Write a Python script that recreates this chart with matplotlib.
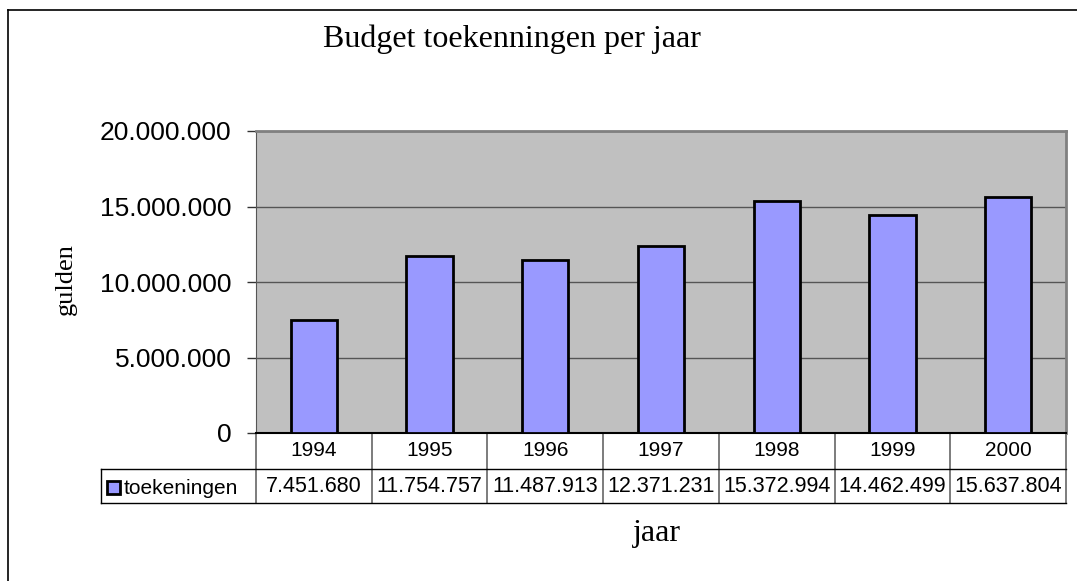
'''
Budget toekenningen per jaar
Bar chart with data table underneath
'''

import numpy as np
import matplotlib
matplotlib.use('Agg')
import matplotlib.pyplot as plt
from matplotlib.lines import Line2D
from matplotlib.patches import Rectangle
from matplotlib.ticker import FuncFormatter

# ═══ Data ═════════════════════════════════════════════════════════════════

years = ['1994', '1995', '1996', '1997', '1998', '1999', '2000']
toekeningen = [7451680, 11754757, 11487913, 12371231, 15372994, 14462499, 15637804]
series_name = 'toekeningen'

title = 'Budget toekenningen per jaar'
xlabel = 'jaar'
ylabel = 'gulden'

# ═══ Figure ═══════════════════════════════════════════════════════════════

W, H = 1077, 581
fig = plt.figure(figsize=(W/100, H/100), dpi=100)

def px(x, y):
  # pixel -> figure fraction
  return x/W, 1 - y/H

def nl(v):
  # dutch thousands separator
  return f'{v:,.0f}'.replace(',', '.')

# Plot area in pixels
L, R, T, B = 256, 1066, 131, 433
ax = fig.add_axes([L/W, 1 - B/H, (R - L)/W, (B - T)/H])

sans = ['Liberation Sans', 'DejaVu Sans']
serif = ['Liberation Serif', 'DejaVu Serif']

# ─── Bars ──────────────────────────────────────
xpos = np.arange(len(years))
ax.set_facecolor('#c0c0c0')
ax.bar(xpos, toekeningen, width=0.40, color='#9999ff', edgecolor='black',
       linewidth=2, zorder=3)

ax.set_xlim(-0.5, len(years) - 0.5)
ax.set_ylim(0, 20000000)
ax.set_yticks(np.arange(0, 20000001, 5000000))
ax.yaxis.set_major_formatter(FuncFormatter(lambda v, p: nl(v)))
ax.grid(axis='y', color='#555555', linewidth=1, zorder=1)
ax.set_xticks([])
ax.tick_params(axis='y', direction='out', length=6.5, width=1, color='#333333',
               labelsize=19, pad=11)
for lbl in ax.get_yticklabels():
  lbl.set_family(sans)

for s in ['top', 'right']:
  ax.spines[s].set_color('#808080')
  ax.spines[s].set_linewidth(2)
ax.spines['left'].set_color('#555555')
ax.spines['bottom'].set_color('black')
ax.spines['bottom'].set_linewidth(1.5)

# ─── Data table ────────────────────────────────
tr = ax.get_xaxis_transform()
ah = B - T
h1 = (469 - B)/ah
h2 = (503 - B)/ah
colw = (R - L)/len(years)
xleg = -0.5 - (L - 101)/colw

kw = dict(transform=tr, clip_on=False, color='black', linewidth=1)
for i in range(len(years) + 1):
  ax.add_line(Line2D([i - 0.5, i - 0.5], [0, -h2], color='#666666',
                     linewidth=1.2, transform=tr, clip_on=False))
ax.add_line(Line2D([xleg, xleg], [-h1, -h2], **kw))
ax.add_line(Line2D([xleg, len(years) - 0.5], [-h1, -h1], **kw))
ax.add_line(Line2D([xleg, len(years) - 0.5], [-h2, -h2], **kw))

for i, (yr, v) in enumerate(zip(years, toekeningen)):
  ax.text(i, -h1/2, yr, transform=tr, ha='center', va='center',
          fontsize=15, family=sans)
  ax.text(i, -(h1 + h2)/2, nl(v), transform=tr,
          ha='center', va='center', fontsize=15.5, family=sans)

# Legend key in the row label cell
kx, ky = px(107, 494)
fig.add_artist(Rectangle((kx, ky), 13/W, 13/H, transform=fig.transFigure,
                         facecolor='#9999ff', edgecolor='black', linewidth=2))
fig.text(*px(124, 488), series_name, ha='left', va='center', fontsize=15,
         family=sans)

# ─── Labels ────────────────────────────────────
fig.text(*px(512, 39), title, ha='center', va='center', fontsize=23, family=serif)
fig.text(*px(657, 534), xlabel, ha='center', va='center', fontsize=23, family=serif)
fig.text(*px(66, 279), ylabel, ha='center', va='center', rotation=90,
         fontsize=19, family=serif)

# ─── Outer chart border
fig.add_artist(Line2D([8/W, 1], [1 - 10/H, 1 - 10/H], transform=fig.transFigure,
                      color='black', linewidth=1.2))
fig.add_artist(Line2D([8/W, 8/W], [0, 1 - 10/H], transform=fig.transFigure,
                      color='black', linewidth=1.2))

fig.savefig('out.png', dpi=100)
